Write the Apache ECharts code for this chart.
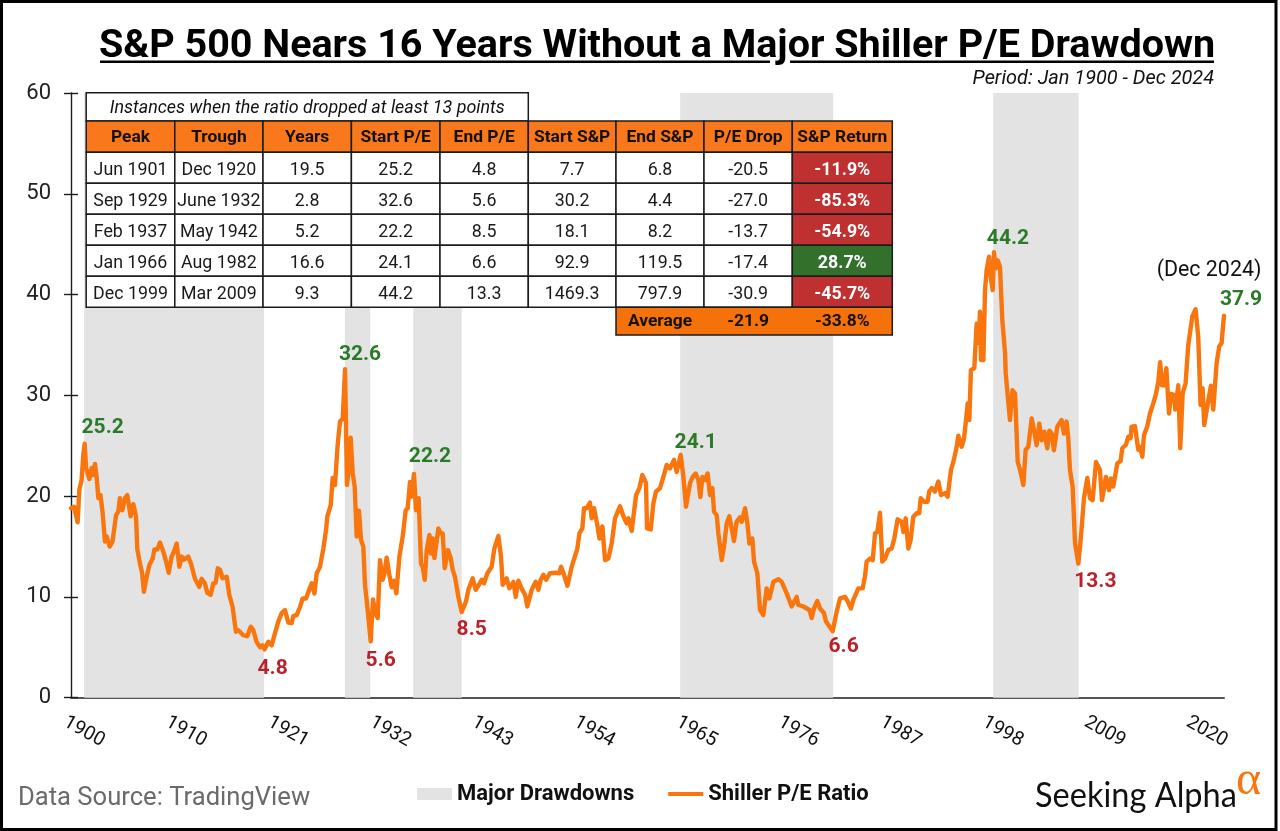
<!DOCTYPE html>
<html>
<head>
<meta charset="utf-8">
<style>html,body{margin:0;padding:0;background:#fff}#c{width:1280px;height:831px}</style>
<script src="https://cdn.jsdelivr.net/npm/echarts@6/dist/echarts.min.js"></script>
</head>
<body>
<div id="c"></div>
<script>
const titleText = 'S&P 500 Nears 16 Years Without a Major Shiller P/E Drawdown';
const subtitleText = 'Period: Jan 1900 - Dec 2024';
const tableNote = 'Instances when the ratio dropped at least 13 points';
const sourceText = 'Data Source: TradingView';

// Monthly-ish readings: decimal year and Shiller P/E
const dates = [1900,1900.33,1900.72,1900.9,1901.15,1901.34,1901.48,1901.63,1902,1902.24,1902.42,1902.6,1902.78,1902.96,1903.2,1903.43,1903.68,1903.86,1904.2,1904.5,1904.88,1905.13,1905.3,1905.56,1905.85,1906.1,1906.46,1906.75,1907.04,1907.19,1907.48,1907.7,1907.9,1908.13,1908.5,1908.85,1909.03,1909.35,1909.64,1910,1910.36,1910.58,1910.9,1911.16,1911.45,1911.74,1912,1912.24,1912.7,1913,1913.43,1913.9,1914.15,1914.5,1914.77,1915.13,1915.42,1915.67,1915.9,1916.14,1916.43,1916.87,1917.15,1917.5,1917.87,1918.13,1918.67,1919.1,1919.47,1919.75,1920.1,1920.48,1920.73,1920.98,1921.38,1921.74,1922.1,1922.46,1922.82,1923.18,1923.55,1923.9,
1924.09,1924.45,1924.81,1925.1,1925.46,1925.72,1926.08,1926.37,1926.62,1926.98,1927.34,1927.63,1927.77,1928.14,1928.35,1928.6,1928.9,1929.15,1929.44,1929.69,1929.9,1930.12,1930.3,1930.52,1930.74,1930.95,1931.2,1931.42,1931.67,1931.85,1932.07,1932.47,1932.72,1932.98,1933.23,1933.48,1933.77,1933.95,1934.2,1934.46,1934.75,1935,1935.25,1935.58,1935.94,1936.26,1936.48,1936.73,1936.91,1937.16,1937.38,1937.67,1937.92,1938.1,1938.32,1938.54,1938.83,1939,1939.19,1939.37,1939.8,1940.05,1940.27,1940.49,1940.85,1941.14,1941.35,1941.6,1941.97,1942.33,1942.8,1943.05,1943.52,1943.85,1944.13,1944.5,1944.75,1945.11,1945.58,1945.87,1946.3,1946.59,1946.77,1947.2,1947.5,1947.93,1948.18,1948.47,1948.9,1949.2,1949.44,
1949.91,1950.35,1950.64,1950.89,1951.18,1951.47,1951.9,1952.44,1952.91,1953.09,1953.42,1953.78,1954.25,1954.86,1955.08,1955.4,1955.58,1955.87,1956.23,1956.41,1956.67,1957.03,1957.25,1957.57,1957.86,1958.22,1958.58,1958.94,1959.48,1959.85,1960.2,1960.39,1960.75,1961.22,1961.58,1961.9,1962.3,1962.41,1962.81,1963.1,1963.38,1963.82,1964.18,1964.54,1964.9,1965.33,1965.62,1966.06,1966.35,1966.63,1966.81,1967.07,1967.36,1967.68,1967.97,1968.19,1968.4,1968.69,1968.98,1969.23,1969.49,1969.67,1969.96,1970.14,1970.5,1970.75,1971.04,1971.33,1971.58,1971.83,1972.12,1972.48,1972.67,1973.03,1973.28,1973.5,1973.82,1974,1974.36,1974.65,1975.01,1975.37,1975.66,1976.1,1976.64,1977,1977.54,1978.08,1978.62,1978.8,1979.35,1980,1980.25,1980.5,1980.86,1981.15,1981.58,1981.8,1982.52,1982.96,1983.32,1983.86,1984.15,1984.51,1984.76,
1985.3,1985.77,1986.02,1986.2,1986.57,1986.86,1987.11,1987.36,1987.65,1987.9,1988.19,1988.55,1988.91,1989.2,1989.56,1990,1990.18,1990.43,1990.72,1990.97,1991.26,1991.62,1991.9,1992.06,1992.42,1992.8,1992.98,1993.25,1993.6,1993.97,1994.26,1994.69,1994.98,1995.34,1995.6,1995.96,1996.14,1996.5,1996.75,1996.97,1997.15,1997.33,1997.5,1997.87,1998.12,1998.34,1998.48,1998.59,1998.85,1999.03,1999.2,1999.46,1999.68,1999.86,2000,2000.18,2000.4,2000.65,2000.9,2001.2,2001.27,2001.73,2002,2002.28,2002.57,2002.82,2003,2003.18,2003.43,2003.72,2004.08,2004.34,2004.62,2004.91,2005.17,2005.45,2005.78,2006,2006.25,2006.5,2006.86,2007.33,2007.58,2007.87,2008.05,2008.23,2008.52,2008.78,2009.14,2009.39,
2009.75,2010.11,2010.4,2010.69,2011.05,2011.48,2011.7,2012.13,2012.46,2012.67,2012.92,2013.36,2013.72,2013.9,2014.3,2014.55,2014.8,2014.91,2015.27,2015.63,2015.81,2016.07,2016.25,2016.6,2016.9,2017.26,2017.55,2017.8,2018,2018.2,2018.42,2018.67,2018.96,2019.17,2019.5,2019.64,2019.97,2020.18,2020.44,2020.76,2021.05,2021.48,2021.84,2022.13,2022.38,2022.6,2022.78,2023.11,2023.5,2023.76,2024.12,2024.4,2024.66,2024.92];
const peRatio = [18.8,18.95,17.4,20.6,21.6,24.2,25.2,22.8,21.7,22.8,22.1,23.2,21.9,19.8,20.1,18.3,15.5,16,15,15.5,18.1,18.5,19.8,18.6,19.8,20.1,18,19.2,18,14.7,13.3,12.4,10.5,11.7,13.2,13.8,14.7,14.7,15.4,14.5,13.3,12.4,14,14.5,15.3,13,14,13.7,14,13.3,11.8,11,11.8,11.35,10.4,10.2,11.35,11.4,12.85,12.7,11.85,12,10.2,9.05,6.55,6.7,6.2,6.1,7.05,6.7,5.55,5,5.2,4.8,5.55,5.2,6.4,7.55,8.4,8.7,7.45,7.4,
8.1,8.2,9,9.85,9.85,10.5,11.35,10.35,12.35,13,14.8,16.6,18,19.1,21.8,21.1,25.2,27.4,27.7,32.6,21.1,22.9,25.8,22.3,20.9,16,18.55,15.65,15,11.2,9.35,5.6,9.75,8.4,7.9,13.65,11.7,12.3,13.9,12.35,10.95,11.6,10.35,14,16,18.6,18.8,21.4,19.95,22.2,18.6,19.8,13.3,13,11.7,14.65,16.15,14.3,15.8,13.85,16.8,16.3,16.3,12.85,14.65,13.85,12.7,12,10,8.5,9.55,10.7,11.85,10.7,11.1,11.7,11.35,12.35,13,14.8,16.05,14,11.2,11.85,10.85,11.5,10,11.6,10.7,10.2,9.05,
10.7,11.5,10.7,11.7,12.2,11.7,12.35,12.4,12.35,13,12.2,11.1,13,14.8,16.3,16.8,18.8,18.8,19.35,17.8,18.8,17.1,15.8,17,13.65,13.8,15.3,17.8,19,18,17.3,17.8,16.55,20.1,20.8,22.1,21.3,16.8,16.7,19.3,20.45,20.8,21.9,23.1,22.75,23.6,22.4,24.1,21.9,18.95,18.8,21.3,21.9,22.25,21.6,19.9,21.9,21.6,22.25,20.1,20.8,18.45,18.1,16.3,13.65,15,17.3,18,16.8,15.55,17.45,17.9,17.45,18.8,17.3,15.3,15.8,13.5,12.35,8.7,8.2,10.85,9.85,11.5,11.75,11.5,10.35,9.05,10,9.2,9.05,8.7,7.9,8.85,9.6,8.85,8.4,7.55,6.6,8.55,9.85,10,9.55,8.85,9.7,
10.85,10.85,12,13.5,13.8,13.65,16.3,16.45,18.35,13.5,13.8,14.65,14.8,15.8,17.7,17.45,16.45,17.8,14.8,15.65,17.95,18.3,18.3,19.8,19.45,19.45,20.45,20.8,20.45,21.45,20.1,20.3,19.95,22.6,23.4,24.9,26,24.9,25.7,27.55,29.2,27.55,32.5,32.7,37.1,35.2,38.3,33.5,33.5,40.45,42.4,43.75,41.45,40.45,44.2,42.6,43.4,42.75,37.5,34.15,32.2,27.55,30.5,30.2,23.4,22.6,21.9,21.1,24.6,24.9,27.7,26.55,25.05,27.2,25.55,26.4,24.75,26.5,26.2,24.55,26.9,27.55,26.2,27.4,25.7,22.6,20.95,15.3,13.3,15.65,
19.8,21.8,19.8,19.6,23.4,22.6,19.6,21.9,20.6,21.75,20.95,23.25,23.5,24.75,25.1,25.9,25.75,26.9,26.95,24.6,24.9,23.9,26.05,26.9,28.2,29.2,30.15,31.35,33.3,31,31,32.7,28.2,30.15,30.05,28.6,31,24.75,30.2,31.2,35,37.8,38.55,35.8,29.05,30.7,27.05,28.9,30.95,28.6,33.2,34.85,35.2,37.9];

// Major drawdown bands (decimal years)
const bandStarts = [1901.42,1929.67,1937.08,1966.0,1999.92];
const bandEnds   = [1920.92,1932.42,1942.33,1982.58,2009.17];

// Annotated peaks and troughs
const peakDates  = [1901.48,1929.69,1937.16,1966.06,2000,2024.92];
const peakValues = [25.2,32.6,22.2,24.1,44.2,37.9];
const troughDates  = [1920.98,1932.47,1942.33,1982.52,2009.14];
const troughValues = [4.8,5.6,8.5,6.6,13.3];
const peakOffsets = [[18,-16],[15,-14],[16,-17],[15,-12],[14,-13],[17,-16]];
const troughOffsets = [[8,19],[10,19],[10,18],[11,16],[17,18]];

// X-axis tick labels, at the positions they sit under
const tickLabels = ['1900','1910','1921','1932','1943','1954','1965','1976','1987','1998','2009','2020'];
const tickPositions = [1901.4,1912.46,1923.52,1934.58,1945.64,1956.7,1967.76,1978.82,1989.88,2000.94,2012,2023.06];

// Table
const tableHeaders = ['Peak','Trough','Years','Start P/E','End P/E','Start S&P','End S&P','P/E Drop','S&P Return'];
const colPeak   = ['Jun 1901','Sep 1929','Feb 1937','Jan 1966','Dec 1999'];
const colTrough = ['Dec 1920','June 1932','May 1942','Aug 1982','Mar 2009'];
const colYears  = ['19.5','2.8','5.2','16.6','9.3'];
const colStartPE= ['25.2','32.6','22.2','24.1','44.2'];
const colEndPE  = ['4.8','5.6','8.5','6.6','13.3'];
const colStartSP= ['7.7','30.2','18.1','92.9','1469.3'];
const colEndSP  = ['6.8','4.4','8.2','119.5','797.9'];
const colDrop   = ['-20.5','-27.0','-13.7','-17.4','-30.9'];
const colReturn = ['-11.9%','-85.3%','-54.9%','28.7%','-45.7%'];
const avgLabel = 'Average', avgDrop = '-21.9', avgReturn = '-33.8%';

const FONT = 'Roboto, sans-serif';
const ORANGE = '#F9781B', LINE = '#F8760D', AVG = '#F47209', RED = '#BF3030', GREEN = '#33702C';
const BLACK = '#1c1c1c';

const g = [];
function rect(x,y,w,h,fill,stroke,lw){
  g.push({type:'rect',z:50,silent:true,shape:{x,y,width:w,height:h},style:{fill:fill||'none',stroke:stroke||null,lineWidth:lw===undefined?1.5:lw}});
}
function text(x,y,s,size,opt){
  opt=opt||{};
  g.push({type:'text',z:51,silent:true,x,y:y+size*0.13,scaleX:opt.scaleX||1,scaleY:opt.scaleY||1,style:{text:s,fill:opt.color||'#111',font:(opt.italic?'italic ':'')+(opt.weight||'normal')+' '+size+'px '+(opt.family||FONT),textAlign:opt.align||'center',textVerticalAlign:'middle',textBaseline:'middle'}});
}
// table geometry
const colX=[86.2,174.8,263,351.4,440,528.3,616,704,792.3,892.3];
const rowY=[92.7,121,152.3,183.3,214.3,245.3,276.3,307.3,335];
const HEAD=17.4, CELL=17.8;
rect(colX[0],rowY[0],colX[5]-colX[0],rowY[1]-rowY[0],'#fff',BLACK);
text((colX[0]+colX[5])/2,rowY[0]+13.2,tableNote,17.9,{italic:true});
const cols=[colPeak,colTrough,colYears,colStartPE,colEndPE,colStartSP,colEndSP,colDrop,colReturn];
tableHeaders.forEach((h,i)=>{
  const x=colX[i], w=colX[i+1]-colX[i], cx=x+w/2;
  rect(x,rowY[1],w,rowY[2]-rowY[1],ORANGE,BLACK);
  text(cx,rowY[1]+14,h,HEAD,{weight:'bold'});
  cols[i].forEach((v,r)=>{
    const y=rowY[2+r];
    const last=i===8;
    const fill=last?(v.charAt(0)==='-'?RED:GREEN):'#fff';
    rect(x,y,w,31,fill,BLACK);
    text(cx,y+15.5,v,CELL,last?{weight:'bold',color:'#fff'}:{color:'#1a1a1a'});
  });
});
rect(colX[6],rowY[7],colX[9]-colX[6],rowY[8]-rowY[7],AVG,BLACK);
text((colX[6]+colX[7])/2,rowY[7]+12.5,avgLabel,HEAD,{weight:'bold'});
text((colX[7]+colX[8])/2,rowY[7]+12.5,avgDrop,HEAD,{weight:'bold'});
text((colX[8]+colX[9])/2,rowY[7]+12.5,avgReturn,HEAD,{weight:'bold'});

// title
text(657,42,titleText,39.5,{weight:'bold',color:'#000'});
g.push({type:'line',z:50,silent:true,shape:{x1:100,y1:61.8,x2:770,y2:61.8},style:{stroke:'#000',lineWidth:2.4}});
g.push({type:'line',z:50,silent:true,shape:{x1:790,y1:61.8,x2:1214,y2:61.8},style:{stroke:'#000',lineWidth:2.4}});
text(1214,76,subtitleText,19.9,{italic:true,align:'right',color:'#111'});
text(1209,268,'(Dec 2024)',21.4,{color:'#111'});
text(18,795,sourceText,25.6,{align:'left',color:'#6a6a6a'});
text(1035,791,'Seeking Alpha',35,{align:'left',family:'Lato, sans-serif',color:'#111',scaleX:0.93});
text(1236,775,'\u03B1',48,{align:'left',family:'"Liberation Serif", serif',color:LINE});
// frame
rect(1.5,1.5,1274.5,828,'none','#000',3);

function labelPoints(ds,vs,offs,color){
  return ds.map((d,i)=>({value:[d,vs[i]],label:{offset:offs[i],color,opacity:1}}));
}

const option = {
  animation:false,
  backgroundColor:'#fff',
  textStyle:{fontFamily:FONT},
  grid:{left:71,right:56,top:93,bottom:133.3,containLabel:false},
  legend:{
    left:412,top:778,itemWidth:35,itemHeight:12,itemGap:34,
    textStyle:{fontFamily:FONT,fontSize:22,fontWeight:'bold',color:'#111'},
    selectedMode:false,
    data:[
      {name:'Major Drawdowns',icon:'rect',itemStyle:{color:'#E3E3E3'}},
      {name:'Shiller P/E Ratio',icon:'path://M0 0L1 0L0 0ZM0 11L100 11L100 23L0 23ZM0 34L1 34L0 34Z',itemStyle:{color:LINE}}
    ]
  },
  xAxis:{
    type:'value',min:1900,max:2024.92,
    axisLine:{show:true,onZero:false,lineStyle:{color:'#555',width:2}},
    axisTick:{show:false},splitLine:{show:false},
    axisLabel:{
      customValues:tickPositions,
      formatter:(v)=>tickLabels[tickPositions.indexOf(v)],
      rotate:-29,align:'center',verticalAlign:'middle',margin:34,
      fontFamily:FONT,fontSize:19.5,color:'#111',hideOverlap:false
    }
  },
  yAxis:[
    {type:'value',min:0,max:60,interval:10,
     axisLine:{show:true,lineStyle:{color:BLACK,width:1.4}},
     axisTick:{show:true,length:7,lineStyle:{color:BLACK,width:1.4}},
     splitLine:{show:false},
     axisLabel:{margin:20,fontFamily:FONT,fontSize:22,color:'#222'}},
    {type:'value',min:0,max:60,interval:10,position:'left',
     axisLine:{show:false},
     axisTick:{show:true,inside:true,length:7,lineStyle:{color:BLACK,width:1.4}},
     splitLine:{show:false},axisLabel:{show:false}}
  ],
  series:[
    {name:'Major Drawdowns',type:'line',data:[],z:1,itemStyle:{color:'#E3E3E3'},
     markArea:{silent:true,itemStyle:{color:'#E3E3E3',opacity:1},
       data:bandStarts.map((s,i)=>[{xAxis:s,yAxis:0},{xAxis:bandEnds[i],yAxis:60}])}},
    {name:'Shiller P/E Ratio',type:'line',z:3,showSymbol:false,symbol:'none',smooth:false,
     lineStyle:{color:LINE,width:4.4,join:'round',cap:'round'},itemStyle:{color:LINE},
     data:dates.map((d,i)=>[d,peRatio[i]])},
    {name:'Peaks',type:'scatter',z:4,symbolSize:1,silent:true,itemStyle:{opacity:1,color:'rgba(0,0,0,0)'},
     label:{show:true,position:'inside',opacity:1,fontFamily:FONT,fontSize:21,fontWeight:'bold',formatter:p=>p.value[1].toFixed(1)},
     data:labelPoints(peakDates,peakValues,peakOffsets,'#2A7A28')},
    {name:'Troughs',type:'scatter',z:4,symbolSize:1,silent:true,itemStyle:{opacity:1,color:'rgba(0,0,0,0)'},
     label:{show:true,position:'inside',opacity:1,fontFamily:FONT,fontSize:21,fontWeight:'bold',formatter:p=>p.value[1].toFixed(1)},
     data:labelPoints(troughDates,troughValues,troughOffsets,'#B8222B')}
  ],
  graphic:{elements:g}
};
const chart = echarts.init(document.getElementById('c'),null,{renderer:'canvas'});
chart.setOption(option);
</script>
</body>
</html>
